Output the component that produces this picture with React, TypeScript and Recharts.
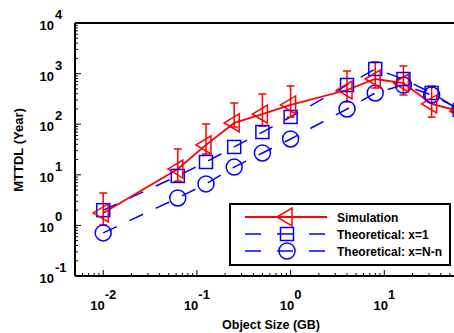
import React from "react";
import { ComposedChart, Line, XAxis, YAxis, ErrorBar } from "recharts";

// object sizes (GB) and MTTDL values (years)
const objectSizeGB = [0.01, 0.0625, 0.125, 0.25, 0.5, 1, 4, 8, 16, 32, 64];
const simulation = [1.76, 13, 39, 106, 158, 240, 474, 782, 652, 251, 180];
const simLow = [1.02, 7.5, 25.7, 88, 91, 138, 275, 519, 378, 138, 110];
const simHigh = [4.37, 32.4, 101, 263, 395, 569, 1126, 1700, 1413, 569, 300];
const theoryX1 = [2.0, 9.5, 17.9, 35.5, 70, 139, 595, 1233, 782, 414, 191];
const theoryNn = [0.71, 3.48, 6.6, 14.2, 27, 51, 200, 414, 595, 378, 195];

const legendLabels = ["Simulation", "Theoretical: x=1", "Theoretical: x=N-n"];

const xDomain = [0.005, 100];
const yDomain = [0.1, 10000];
const xDecades = [-3, -2, -1, 0, 1];
const yDecades = [-1, 0, 1, 2, 3];

const RED = "#ff0000";
const BLUE = "#0000ff";
const FONT = "'Liberation Sans', Arial, Helvetica, sans-serif";

const data = objectSizeGB.map((x, i) => ({
  x,
  sim: simulation[i],
  simErr: [simulation[i] - simLow[i], simHigh[i] - simulation[i]],
  x1: theoryX1[i],
  nn: theoryNn[i],
}));

function logTicks(decades: number[], lo: number, hi: number) {
  const out: number[] = [];
  decades.forEach((d) => {
    for (let k = 1; k <= 9; k++) {
      const v = Number((k * Math.pow(10, d)).toPrecision(6));
      if (v >= lo && v <= hi) out.push(v);
    }
  });
  if (!out.includes(hi)) out.push(hi);
  return out;
}

const xTicks = logTicks(xDecades, xDomain[0], xDomain[1]);
const yTicks = logTicks(yDecades, yDomain[0], yDomain[1]);

const isMajor = (v: number) => {
  const l = Math.log10(v);
  return Math.abs(l - Math.round(l)) < 1e-9;
};

const BottomTick = (props: any) => {
  const { x, y, payload } = props;
  const v = payload.value;
  const major = isMajor(v);
  const e = Math.round(Math.log10(v));
  return (
    <g>
      <line x1={x} y1={y - 1} x2={x} y2={y - (major ? 6 : 3)} stroke="#000" strokeWidth={1} />
      {major && e >= -2 && e <= 1 && (
        <text x={x} y={y + 34} textAnchor="middle" fontFamily={FONT} fontWeight="bold" fontSize={13} fill="#000">
          <tspan>10</tspan>
          <tspan dy={-11}>{`${e}`}</tspan>
        </text>
      )}
    </g>
  );
};

const TopTick = (props: any) => {
  const { x, y, payload } = props;
  const major = isMajor(payload.value);
  return <line x1={x} y1={y + 1} x2={x} y2={y + (major ? 6 : 3)} stroke="#000" strokeWidth={1} />;
};

const LeftTick = (props: any) => {
  const { x, y, payload } = props;
  const v = payload.value;
  const major = isMajor(v);
  const e = Math.round(Math.log10(v));
  return (
    <g>
      <line x1={x + 1} y1={y} x2={x + (major ? 6 : 3)} y2={y} stroke="#000" strokeWidth={1} />
      {major && (
        <g fontFamily={FONT} fontWeight="bold" fontSize={13} fill="#000">
          <text x={x - 21} y={y + 7} textAnchor="end">10</text>
          <text x={x - 20} y={y - 4}>{`${e}`}</text>
        </g>
      )}
    </g>
  );
};

const Triangle = ({ cx, cy }: { cx: number; cy: number }) => (
  <polygon
    points={`${cx - 10},${cy} ${cx + 5},${cy - 9} ${cx + 5},${cy + 9}`}
    fill="none"
    stroke={RED}
    strokeWidth={1.5}
  />
);

const Square = ({ cx, cy }: { cx: number; cy: number }) => (
  <rect x={cx - 6.5} y={cy - 6.5} width={13} height={13} fill="none" stroke={BLUE} strokeWidth={1.5} />
);

const Circle = ({ cx, cy }: { cx: number; cy: number }) => (
  <circle cx={cx} cy={cy} r={8} fill="none" stroke={BLUE} strokeWidth={1.5} />
);

export default function App() {
  const rows = [14, 31, 48];
  return (
    <div style={{ position: "absolute", left: 0, top: 0, width: 454, height: 333, overflow: "hidden", background: "#fff" }}>
      <ComposedChart width={490} height={333} data={data} margin={{ top: 22, right: 12, bottom: 0, left: 0 }}>
        <XAxis
          dataKey="x"
          type="number"
          scale="log"
          domain={xDomain}
          allowDataOverflow
          ticks={xTicks}
          interval={0}
          height={57}
          tickSize={0}
          tickMargin={0}
          tickLine={false}
          axisLine={{ stroke: "#000", strokeWidth: 2 }}
          tick={<BottomTick />}
        />
        <XAxis
          xAxisId="top"
          orientation="top"
          type="number"
          scale="log"
          domain={xDomain}
          allowDataOverflow
          ticks={xTicks}
          interval={0}
          height={1}
          tickSize={0}
          tickMargin={0}
          tickLine={false}
          axisLine={{ stroke: "#000", strokeWidth: 2 }}
          tick={<TopTick />}
        />
        <YAxis
          type="number"
          scale="log"
          domain={yDomain}
          allowDataOverflow
          ticks={yTicks}
          interval={0}
          width={75}
          tickSize={0}
          tickMargin={0}
          tickLine={false}
          axisLine={{ stroke: "#000", strokeWidth: 2 }}
          tick={<LeftTick />}
        />
        <Line
          dataKey="nn"
          stroke={BLUE}
          strokeWidth={1.5}
          strokeDasharray="15 14"
          isAnimationActive={false}
          dot={(p: any) => <Circle key={`c${p.index}`} cx={p.cx} cy={p.cy} />}
        />
        <Line
          dataKey="x1"
          stroke={BLUE}
          strokeWidth={1.5}
          strokeDasharray="15 14"
          isAnimationActive={false}
          dot={(p: any) => <Square key={`s${p.index}`} cx={p.cx} cy={p.cy} />}
        />
        <Line
          dataKey="sim"
          stroke={RED}
          strokeWidth={1.8}
          isAnimationActive={false}
          dot={(p: any) => <Triangle key={`t${p.index}`} cx={p.cx} cy={p.cy} />}
        >
          <ErrorBar dataKey="simErr" direction="y" width={4} stroke={RED} strokeWidth={1.5} isAnimationActive={false} />
        </Line>
      </ComposedChart>

      <svg width={454} height={333} style={{ position: "absolute", left: 0, top: 0, pointerEvents: "none" }}>
        <text
          transform="translate(23,150) rotate(-90)"
          textAnchor="middle"
          fontFamily={FONT}
          fontWeight="bold"
          fontSize={13}
          fill="#000"
        >
          MTTDL (Year)
        </text>
        <text x={271} y={329} textAnchor="middle" fontFamily={FONT} fontWeight="bold" fontSize={12.5} fill="#000">
          Object Size (GB)
        </text>
        <g transform="translate(229,203)">
          <rect x={1} y={1} width={220} height={61} fill="#fff" stroke="#000" strokeWidth={2} />
          <line x1={16} y1={rows[0]} x2={98} y2={rows[0]} stroke={RED} strokeWidth={1.8} />
          <Triangle cx={58} cy={rows[0]} />
          <line x1={16} y1={rows[1]} x2={98} y2={rows[1]} stroke={BLUE} strokeWidth={1.5} strokeDasharray="16 16" />
          <Square cx={58} cy={rows[1]} />
          <line x1={16} y1={rows[2]} x2={98} y2={rows[2]} stroke={BLUE} strokeWidth={1.5} strokeDasharray="16 16" />
          <Circle cx={58} cy={rows[2]} />
          {legendLabels.map((t, i) => (
            <text key={t} x={108} y={rows[i] + 4.5} fontFamily={FONT} fontWeight="bold" fontSize={12} fill="#000">
              {t}
            </text>
          ))}
        </g>
      </svg>
    </div>
  );
}
